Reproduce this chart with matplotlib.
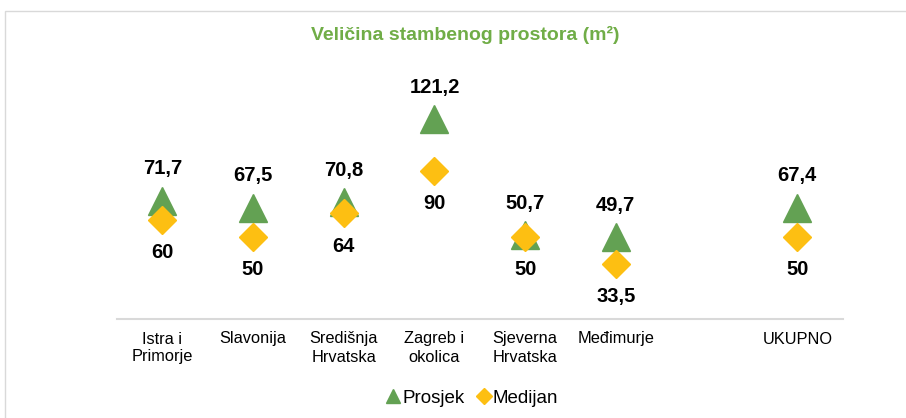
import numpy as np
import matplotlib.pyplot as plt
from matplotlib.lines import Line2D
from matplotlib.patches import Rectangle

plt.rcParams["font.family"] = ["Liberation Sans", "DejaVu Sans"]

regije = ["Istra i\nPrimorje", "Slavonija", "Središnja\nHrvatska", "Zagreb i\nokolica",
          "Sjeverna\nHrvatska", "Međimurje", "", "UKUPNO"]
prosjek = [71.7, 67.5, 70.8, 121.2, 50.7, 49.7, np.nan, 67.4]
medijan = [60, 50, 64, 90, 50, 33.5, np.nan, 50]

zelena = "#63A153"
zuta = "#FDBF12"


def fmt(v):
    return f"{v:g}".replace(".", ",")


fig = plt.figure(figsize=(9.06, 4.18), dpi=100)

# okvir grafikona
okvir = Rectangle((5 / 906, -0.1), 1.1, 1 - 11 / 418 + 0.1,
                  transform=fig.transFigure, facecolor="white",
                  edgecolor="#D9D9D9", linewidth=1.0, zorder=-1)
fig.patches.append(okvir)

ax = fig.add_axes([117 / 906, 1 - 319 / 418, 725.6 / 906, 264 / 418])
ax.set_zorder(2)
ax.set_facecolor("none")
x = np.arange(len(regije))

ax.plot(x, prosjek, linestyle="none", marker="^", markersize=19.5,
        color=zelena, zorder=3)
ax.plot(x, medijan, linestyle="none", marker="D", markersize=14,
        color=zuta, zorder=4)

for xi, p, m in zip(x, prosjek, medijan):
    if np.isnan(p):
        continue
    ax.annotate(fmt(p), (xi, p), xytext=(0, 23), textcoords="offset points",
                ha="center", va="center", fontsize=14.5, fontweight="bold")
    ax.annotate(fmt(m), (xi, m), xytext=(0, -23.5), textcoords="offset points",
                ha="center", va="center", fontsize=14.5, fontweight="bold")

ax.set_xlim(-0.5, len(regije) - 0.5)
ax.set_ylim(0, 160)
ax.set_xticks(x)
ax.set_xticklabels(regije, fontsize=11.8, linespacing=1.25)
ax.tick_params(axis="x", length=0, pad=9)
ax.set_yticks([])
for s in ["top", "left", "right"]:
    ax.spines[s].set_visible(False)
ax.spines["bottom"].set_color("#D9D9D9")
ax.spines["bottom"].set_linewidth(1.5)

fig.text(0.513, 1 - 35 / 418, "Veličina stambenog prostora (m²)", ha="center",
         va="center", fontsize=14, fontweight="bold", color="#70AD47")

handles = [
    Line2D([], [], linestyle="none", marker="^", markersize=10, color=zelena),
    Line2D([], [], linestyle="none", marker="D", markersize=8, color=zuta),
]
fig.legend(handles, ["Prosjek", "Medijan"], loc="center",
           bbox_to_anchor=(472 / 906, 1 - 398 / 418), ncol=2, frameon=False,
           fontsize=13.5, handlelength=0.8, handletextpad=0.1, columnspacing=0.6)

fig.savefig("out.png", dpi=100)
